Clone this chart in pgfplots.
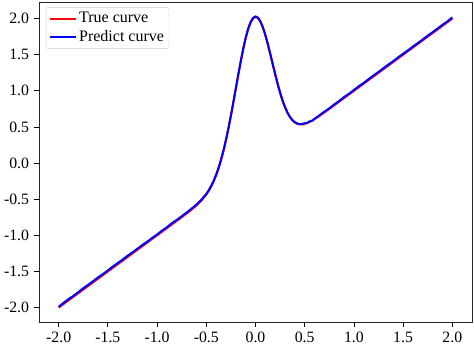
\documentclass[border=0pt]{standalone}
\usepackage{fontspec}
\setmainfont{Liberation Serif}
\usepackage{pgfplots}
\pgfplotsset{compat=1.18}
\begin{document}
\fontsize{15.8pt}{18pt}\selectfont
\begin{tikzpicture}
\begin{axis}[
  scale only axis, width=433pt, height=320pt,
  xmin=-2.2, xmax=2.2, ymin=-2.2, ymax=2.23,
  xtick={-2,-1.5,-1,-0.5,0,0.5,1,1.5,2},
  ytick={-2,-1.5,-1,-0.5,0,0.5,1,1.5,2},
  xtick pos=bottom, ytick pos=left,
  tick align=outside, major tick length=4.5pt,
  tick style={black, line width=0.8pt},
  axis line style={line width=0.9pt, black!85},
  /pgf/number format/.cd, fixed, fixed zerofill, precision=1, assume math mode=true,
  /pgfplots/.cd,
  tick label style={font=\fontsize{15.8pt}{18pt}\selectfont},
  legend style={at={(0.016,0.984)}, anchor=north west, draw=black!20, rounded corners=2pt,
    fill=white, fill opacity=0.8, text opacity=1, font=\fontsize{16pt}{18pt}\selectfont,
    inner xsep=3pt, inner ysep=3pt, row sep=1pt, cells={anchor=west}},
  legend image code/.code={\draw[#1,line width=2pt] (0pt,0pt) -- (26pt,0pt);},
]
\addplot[red, line width=2pt] coordinates {
(-2,-2) (-0.85,-0.85) (-0.8,-0.7998) (-0.75,-0.7493) (-0.7,-0.698) (-0.65,-0.6446)
(-0.6,-0.5868) (-0.55,-0.5198) (-0.5,-0.4361) (-0.475,-0.3846) (-0.45,-0.3244)
(-0.425,-0.2536) (-0.4,-0.1704) (-0.375,-0.0731) (-0.35,0.0398) (-0.325,0.1691)
(-0.3,0.3149) (-0.275,0.4761) (-0.25,0.6511) (-0.225,0.8363) (-0.2,1.0271)
(-0.175,1.2182) (-0.15,1.4027) (-0.125,1.5741) (-0.1,1.7254) (-0.075,1.8503)
(-0.05,1.9439) (-0.025,2.002) (0,2.0233) (0.025,2.0078) (0.05,1.9577)
(0.075,1.877) (0.1,1.7713) (0.125,1.6467) (0.15,1.5103) (0.175,1.3688)
(0.2,1.2286) (0.225,1.0953) (0.25,0.9727) (0.275,0.8643) (0.3,0.7718)
(0.325,0.6959) (0.35,0.6362) (0.375,0.5918) (0.4,0.5613) (0.425,0.5428)
(0.45,0.5344) (0.475,0.5344) (0.5,0.5411) (0.55,0.5686) (0.6,0.6078)
(0.65,0.653) (0.7,0.7011) (0.75,0.7504) (0.8,0.8001) (2,2)
};
\addlegendentry{True curve}
\addplot[blue, line width=2pt] coordinates {
(-2.00,-1.990) (-1.95,-1.935) (-1.90,-1.882) (-1.85,-1.838) (-1.80,-1.786)
(-1.75,-1.732) (-1.70,-1.684) (-1.65,-1.634) (-1.60,-1.582) (-1.55,-1.536)
(-1.50,-1.485) (-1.45,-1.432) (-1.40,-1.384) (-1.35,-1.336) (-1.30,-1.282)
(-1.25,-1.236) (-1.20,-1.186) (-1.15,-1.134) (-1.10,-1.088) (-1.05,-1.036)
(-1.00,-0.988) (-0.95,-0.935) (-0.90,-0.888) (-0.85,-0.832) (-0.80,-0.786)
(-0.75,-0.735) (-0.70,-0.684) (-0.65,-0.630) (-0.60,-0.574) (-0.55,-0.508)
(-0.50,-0.426) (-0.475,-0.375) (-0.45,-0.314) (-0.425,-0.243) (-0.4,-0.160)
(-0.375,-0.063) (-0.35,0.050) (-0.325,0.179) (-0.3,0.325) (-0.275,0.486)
(-0.25,0.661) (-0.225,0.846) (-0.2,1.037) (-0.175,1.228) (-0.15,1.412)
(-0.125,1.584) (-0.1,1.735) (-0.075,1.860) (-0.05,1.953) (-0.025,2.010)
(0,2.030) (0.025,2.013) (0.05,1.962) (0.075,1.880) (0.1,1.775)
(0.125,1.650) (0.15,1.513) (0.175,1.371) (0.2,1.231) (0.225,1.097)
(0.25,0.975) (0.275,0.866) (0.3,0.775) (0.325,0.699) (0.35,0.640)
(0.375,0.595) (0.4,0.566) (0.425,0.548) (0.45,0.540) (0.475,0.542)
(0.5,0.552) (0.525,0.556) (0.55,0.578) (0.575,0.585) (0.6,0.614)
(0.65,0.662) (0.7,0.712) (0.75,0.758) (0.8,0.812) (0.85,0.860)
(0.9,0.914) (0.95,0.960) (1.0,1.012) (1.05,1.064) (1.1,1.110)
(1.15,1.163) (1.2,1.214) (1.25,1.262) (1.3,1.314) (1.35,1.364)
(1.4,1.412) (1.45,1.465) (1.5,1.513) (1.55,1.562) (1.6,1.614)
(1.65,1.662) (1.7,1.713) (1.75,1.765) (1.8,1.812) (1.85,1.863)
(1.9,1.915) (1.95,1.962) (2.0,2.018)
};
\addlegendentry{Predict curve}
\end{axis}
\pgfresetboundingbox
\path[use as bounding box] (-39pt,-27pt) rectangle (435pt,322pt);
\end{tikzpicture}
\end{document}
